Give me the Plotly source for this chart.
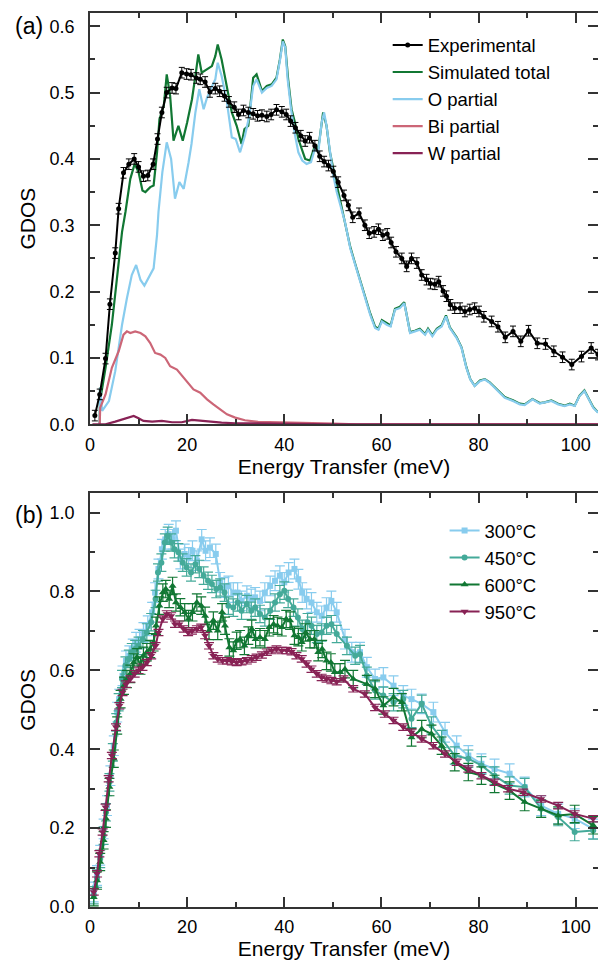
import plotly.graph_objects as go

# ---------------- Panel (a) data ----------------
exp_E = [1.0, 2.0, 3.2, 4.1, 5.2, 5.9, 6.9, 8.0, 9.1, 10.0, 11.0, 11.9, 13.0, 13.9, 14.8, 15.8, 16.9, 17.7,
         18.9, 19.9, 20.8, 21.9, 22.7, 23.7, 24.7, 25.8, 26.7, 27.7, 28.6, 29.7, 30.6, 31.6, 32.6, 33.6,
         34.5, 35.4, 36.4, 37.3, 38.4, 39.5, 40.4, 41.3, 42.3, 43.4, 44.3, 45.2, 46.3, 47.3, 48.2, 49.1,
         50.1, 51.1, 52.3, 53.2, 54.1, 55.4, 56.6, 57.5, 58.5, 59.4, 60.3, 61.2, 62.0, 63.0, 64.2, 65.2,
         66.2, 67.3, 68.3, 69.3, 70.1, 71.0, 71.8, 72.7, 73.4, 74.2, 75.1, 76.2, 77.2, 78.2, 79.2, 80.1,
         81.1, 82.7, 84.0, 85.5, 87.1, 88.7, 90.3, 92.1, 93.8, 95.5, 97.3, 99.2, 101.2, 103.2, 104.6]
exp_G = [0.013, 0.045, 0.099, 0.181, 0.258, 0.325, 0.379, 0.392, 0.400, 0.388, 0.374, 0.375, 0.392, 0.430,
         0.470, 0.500, 0.507, 0.506, 0.530, 0.528, 0.527, 0.522, 0.520, 0.516, 0.501, 0.506, 0.502, 0.495,
         0.486, 0.478, 0.467, 0.473, 0.470, 0.468, 0.465, 0.466, 0.464, 0.467, 0.474, 0.471, 0.467, 0.457,
         0.447, 0.435, 0.427, 0.432, 0.420, 0.404, 0.396, 0.390, 0.381, 0.365, 0.345, 0.330, 0.312, 0.318,
         0.300, 0.288, 0.290, 0.294, 0.285, 0.287, 0.274, 0.260, 0.250, 0.238, 0.250, 0.243, 0.225, 0.218,
         0.212, 0.211, 0.215, 0.201, 0.193, 0.180, 0.175, 0.175, 0.170, 0.173, 0.175, 0.170, 0.162, 0.155,
         0.147, 0.131, 0.140, 0.125, 0.141, 0.122, 0.121, 0.110, 0.101, 0.090, 0.102, 0.115, 0.105]

sim_E = [2.0, 2.05, 2.3, 3.2, 4.5, 5.6, 6.6, 7.3, 8.3, 9.2, 10.0, 10.8, 11.4, 12.4, 13.1, 13.8, 14.3, 15.2,
         15.8, 16.5, 17.2, 18.2, 19.1, 20.0, 21.0, 21.8, 22.3, 23.0, 24.1, 25.1, 25.8, 26.3, 27.1, 28.2,
         29.2, 30.2, 31.2, 31.8, 32.6, 33.6, 34.3, 35.4, 36.4, 37.4, 38.4, 39.1, 39.7, 40.2, 40.8, 41.5,
         42.2, 42.9, 44.3, 45.3, 46.3, 47.0, 48.0, 48.7, 49.4, 50.4, 51.7, 52.5, 53.6, 54.6, 55.6, 56.6,
         57.7, 58.7, 59.4, 60.1, 61.1, 61.9, 62.8, 63.8, 64.7, 65.2, 65.9, 66.9, 67.9, 69.0, 69.6, 70.5,
         71.4, 72.4, 73.3, 74.1, 75.5, 76.5, 77.5, 78.3, 79.2, 80.3, 81.3, 82.3, 83.7, 85.4, 87.1, 88.5,
         89.5, 91.1, 92.6, 93.6, 95.0, 96.4, 97.7, 98.8, 99.8, 100.8, 101.8, 102.9, 103.6, 104.6]
sim_G = [0.0, 0.055, 0.045, 0.085, 0.150, 0.225, 0.290, 0.320, 0.370, 0.3925, 0.380, 0.3525, 0.350, 0.3575,
         0.360, 0.410, 0.460, 0.480, 0.5275, 0.495, 0.4275, 0.450, 0.4275, 0.455, 0.490, 0.530, 0.5575,
         0.530, 0.535, 0.540, 0.555, 0.5725, 0.550, 0.510, 0.470, 0.450, 0.4225, 0.445, 0.450, 0.5225,
         0.5275, 0.5025, 0.510, 0.5125, 0.5225, 0.550, 0.580, 0.570, 0.520, 0.475, 0.455, 0.430, 0.400,
         0.3975, 0.420, 0.415, 0.470, 0.450, 0.410, 0.375, 0.330, 0.307, 0.267, 0.242, 0.217, 0.192,
         0.167, 0.147, 0.144, 0.157, 0.152, 0.149, 0.174, 0.177, 0.184, 0.167, 0.139, 0.141, 0.144, 0.136,
         0.144, 0.134, 0.144, 0.149, 0.164, 0.146, 0.131, 0.116, 0.086, 0.068, 0.058, 0.066, 0.068, 0.063,
         0.053, 0.041, 0.036, 0.031, 0.030, 0.038, 0.032, 0.033, 0.036, 0.031, 0.028, 0.031, 0.028, 0.043,
         0.051, 0.036, 0.026, 0.018]

o_E = [2.0, 2.05, 2.5, 3.9, 5.2, 6.6, 7.6, 8.6, 9.5, 10.4, 11.2, 12.1, 13.1, 13.8, 14.1, 14.9, 15.8, 16.7,
       17.5, 18.4, 19.3, 20.3, 20.9, 21.7, 22.5, 23.4, 24.1, 25.0, 25.8, 26.3, 27.1, 28.2, 29.2, 30.0,
       30.9, 31.9, 32.8, 33.6, 34.3, 35.4, 36.4, 37.4, 38.4, 39.1, 39.7, 40.2, 40.7, 41.4, 42.1, 42.9,
       43.7, 44.6, 45.5, 46.3, 47.0, 47.7, 48.2, 48.7, 49.4, 50.1, 50.8, 51.7, 52.5, 53.6, 54.6, 55.6,
       56.6, 57.7, 58.7, 59.4, 60.1, 61.1, 61.9, 62.8, 63.8, 64.7, 65.2, 65.9, 66.9, 67.9, 69.0, 69.6,
       70.5, 71.4, 72.4, 73.3, 74.1, 75.5, 76.5, 77.5, 78.3, 79.2, 80.3, 81.3, 82.3, 83.7, 85.4, 87.1,
       88.5, 89.5, 91.1, 92.6, 93.6, 95.0, 96.4, 97.7, 98.8, 99.8, 100.8, 101.8, 102.9, 103.6, 104.6]
o_G = [0.0, 0.055, 0.020, 0.035, 0.080, 0.150, 0.190, 0.225, 0.240, 0.2175, 0.209, 0.2225, 0.235, 0.285,
       0.320, 0.380, 0.425, 0.400, 0.340, 0.365, 0.355, 0.395, 0.4225, 0.470, 0.505, 0.475, 0.4925, 0.5075,
       0.520, 0.545, 0.525, 0.485, 0.4325, 0.430, 0.410, 0.435, 0.465, 0.510, 0.520, 0.500, 0.507, 0.510,
       0.520, 0.548, 0.577, 0.568, 0.520, 0.475, 0.440, 0.410, 0.3975, 0.3925, 0.395, 0.415, 0.410, 0.455,
       0.470, 0.450, 0.410, 0.375, 0.350, 0.325, 0.305, 0.265, 0.240, 0.215, 0.190, 0.165, 0.145, 0.1425,
       0.155, 0.150, 0.1475, 0.1725, 0.175, 0.1825, 0.165, 0.1375, 0.140, 0.1425, 0.135, 0.1425, 0.1325,
       0.1425, 0.1475, 0.1625, 0.145, 0.130, 0.115, 0.085, 0.0675, 0.0575, 0.065, 0.0675, 0.0625, 0.0525,
       0.040, 0.035, 0.030, 0.029, 0.0375, 0.031, 0.0325, 0.035, 0.030, 0.0275, 0.030, 0.0275, 0.0425,
       0.050, 0.035, 0.025, 0.0175]

bi_E = [2.0, 2.05, 2.1, 3.2, 4.5, 5.9, 6.9, 7.6, 8.3, 9.3, 10.4, 11.4, 12.4, 13.4, 14.5, 15.5, 16.5, 17.9,
        19.3, 20.3, 21.3, 22.7, 24.1, 25.4, 26.8, 28.2, 29.9, 31.9, 34.6, 38.8, 43.6, 50.0, 55.0, 104.6]
bi_G = [0.0, 0.015, 0.025, 0.045, 0.085, 0.110, 0.135, 0.140, 0.1375, 0.140, 0.1375, 0.1325, 0.1225, 0.1075,
        0.105, 0.100, 0.0875, 0.0825, 0.070, 0.060, 0.0525, 0.0475, 0.0375, 0.030, 0.0225, 0.015, 0.010,
        0.006, 0.0035, 0.0025, 0.002, 0.001, 0.0, 0.0]

w_E = [0.5, 3.2, 5.2, 7.3, 9.0, 10.0, 11.0, 12.8, 14.8, 16.9, 18.9, 21.0, 22.3, 24.5, 27.1, 29.9, 35.0,
       45.0, 50.0, 104.6]
w_G = [0.0, 0.0, 0.004, 0.009, 0.0125, 0.009, 0.005, 0.004, 0.005, 0.003, 0.003, 0.0065, 0.0055, 0.004,
       0.0025, 0.0015, 0.001, 0.001, 0.0, 0.0]

# ---------------- Panel (b) data ----------------
t300_E = [0.77, 1.45, 2.1, 2.8, 3.5, 4.2, 4.9, 5.6, 6.0, 6.7, 7.4, 8.1, 8.8, 9.5, 10.2, 11.0, 11.9, 12.8,
          13.4, 14.1, 14.8, 15.5, 16.2, 17.0, 17.7, 18.6, 19.5, 20.3, 21.1, 22.0, 23.0, 23.8, 24.7, 25.9,
          26.8, 27.7, 28.5, 29.5, 30.4, 31.2, 32.3, 33.2, 34.0, 35.0, 36.0, 37.1, 38.1, 39.1, 40.0, 40.9,
          42.1, 42.9, 43.7, 44.6, 45.6, 46.7, 47.7, 48.7, 49.7, 50.8, 52.5, 53.9, 55.6, 57.0, 58.7, 60.4,
          62.5, 64.5, 66.2, 68.3, 70.7, 73.1, 75.5, 77.9, 80.6, 83.3, 86.4, 89.5, 92.9, 96.4, 99.8, 103.6]
t300_G = [0.038, 0.080, 0.131, 0.198, 0.257, 0.333, 0.409, 0.494, 0.527, 0.586, 0.624, 0.637, 0.654, 0.671,
          0.679, 0.696, 0.713, 0.747, 0.797, 0.857, 0.907, 0.932, 0.945, 0.932, 0.954, 0.882, 0.895, 0.886,
          0.903, 0.878, 0.932, 0.903, 0.911, 0.895, 0.823, 0.810, 0.814, 0.797, 0.797, 0.776, 0.789, 0.781,
          0.785, 0.776, 0.797, 0.814, 0.827, 0.840, 0.823, 0.848, 0.857, 0.831, 0.797, 0.781, 0.772, 0.747,
          0.738, 0.759, 0.776, 0.747, 0.679, 0.646, 0.646, 0.608, 0.578, 0.582, 0.561, 0.536, 0.527, 0.515,
          0.494, 0.443, 0.409, 0.384, 0.363, 0.350, 0.338, 0.304, 0.257, 0.236, 0.224, 0.198]

t450_E = [0.77, 1.45, 2.1, 2.8, 3.3, 4.0, 4.7, 5.4, 5.9, 6.6, 7.3, 8.0, 8.6, 9.3, 10.0, 10.9, 11.7, 12.6,
          13.5, 14.0, 14.7, 15.4, 16.0, 16.7, 17.4, 18.2, 19.1, 19.9, 20.8, 21.7, 22.5, 23.4, 24.3, 25.1,
          26.0, 26.8, 27.7, 28.5, 29.5, 30.4, 31.2, 32.3, 33.2, 34.0, 35.0, 36.0, 37.1, 38.1, 39.1, 40.0,
          40.8, 41.9, 42.8, 43.7, 44.8, 45.6, 46.7, 47.7, 48.7, 49.7, 50.8, 52.9, 54.6, 55.6, 57.0, 58.7,
          60.4, 62.5, 64.5, 66.2, 68.3, 70.3, 72.4, 75.1, 77.9, 80.6, 83.3, 86.4, 89.5, 92.9, 96.4, 99.8,
          103.6]
t450_G = [0.030, 0.072, 0.122, 0.181, 0.240, 0.316, 0.392, 0.468, 0.519, 0.578, 0.612, 0.629, 0.646, 0.654,
          0.662, 0.679, 0.696, 0.722, 0.781, 0.848, 0.873, 0.924, 0.941, 0.924, 0.907, 0.899, 0.873, 0.861,
          0.848, 0.869, 0.857, 0.840, 0.827, 0.819, 0.806, 0.810, 0.797, 0.764, 0.759, 0.772, 0.751, 0.768,
          0.751, 0.759, 0.743, 0.734, 0.751, 0.772, 0.793, 0.802, 0.781, 0.759, 0.734, 0.705, 0.722, 0.713,
          0.692, 0.696, 0.713, 0.717, 0.692, 0.662, 0.637, 0.641, 0.586, 0.549, 0.536, 0.519, 0.527, 0.477,
          0.515, 0.460, 0.426, 0.384, 0.376, 0.359, 0.333, 0.308, 0.304, 0.249, 0.228, 0.190, 0.194]

t600_E = [0.77, 1.45, 2.1, 2.8, 3.3, 4.0, 4.9, 5.6, 6.3, 7.0, 7.6, 8.3, 9.0, 9.7, 10.4, 11.0, 11.7, 12.4,
          13.1, 13.6, 14.3, 15.0, 15.6, 16.3, 17.0, 17.7, 18.6, 19.5, 20.3, 21.1, 22.0, 22.9, 23.7, 24.5,
          25.4, 26.3, 27.2, 27.8, 28.7, 29.5, 30.2, 30.9, 31.8, 32.6, 33.3, 34.1, 35.0, 36.0, 36.9, 37.8,
          38.6, 39.5, 40.4, 41.2, 42.1, 42.9, 43.6, 44.4, 45.3, 46.2, 47.0, 47.8, 48.7, 49.6, 50.4, 51.5,
          52.5, 54.2, 57.0, 58.7, 60.4, 62.5, 64.2, 66.2, 68.3, 70.3, 72.4, 75.1, 77.9, 80.6, 83.3, 86.4,
          89.5, 92.9, 96.4, 99.8, 103.6]
t600_G = [0.025, 0.067, 0.114, 0.169, 0.224, 0.304, 0.376, 0.460, 0.527, 0.561, 0.578, 0.591, 0.620, 0.633,
          0.612, 0.637, 0.646, 0.654, 0.671, 0.713, 0.764, 0.797, 0.806, 0.781, 0.814, 0.772, 0.760, 0.747,
          0.730, 0.747, 0.772, 0.764, 0.738, 0.700, 0.726, 0.700, 0.747, 0.713, 0.658, 0.650, 0.675, 0.679,
          0.662, 0.688, 0.705, 0.679, 0.684, 0.679, 0.709, 0.717, 0.713, 0.709, 0.730, 0.726, 0.688, 0.684,
          0.671, 0.696, 0.679, 0.679, 0.646, 0.654, 0.624, 0.620, 0.595, 0.595, 0.603, 0.578, 0.565, 0.553,
          0.511, 0.532, 0.519, 0.430, 0.451, 0.439, 0.409, 0.367, 0.342, 0.333, 0.312, 0.295, 0.266, 0.249,
          0.232, 0.236, 0.207]

t950_E = [0.77, 1.45, 1.93, 2.6, 3.2, 3.85, 4.5, 5.35, 6.04, 6.7, 7.4, 8.3, 9.2, 10.0, 10.8, 11.7, 12.6,
          13.5, 14.1, 15.0, 15.8, 16.7, 17.5, 18.4, 19.3, 20.2, 21.0, 22.0, 22.9, 23.7, 24.5, 25.4, 26.3,
          27.3, 28.2, 29.2, 30.2, 31.2, 32.3, 33.3, 34.3, 35.4, 36.4, 37.4, 38.4, 39.5, 40.5, 41.5, 42.5,
          43.6, 44.6, 45.6, 46.7, 47.7, 48.7, 49.7, 50.8, 52.2, 54.2, 56.6, 58.7, 60.7, 62.5, 64.5, 66.2,
          68.3, 70.7, 73.1, 75.5, 77.9, 80.6, 83.3, 86.1, 89.2, 92.9, 96.4, 99.8, 103.6]
t950_G = [0.038, 0.084, 0.135, 0.190, 0.253, 0.325, 0.384, 0.456, 0.510, 0.544, 0.565, 0.578, 0.591, 0.600,
          0.608, 0.620, 0.637, 0.662, 0.696, 0.730, 0.743, 0.738, 0.717, 0.717, 0.705, 0.696, 0.700, 0.705,
          0.709, 0.688, 0.662, 0.637, 0.629, 0.624, 0.624, 0.622, 0.620, 0.622, 0.624, 0.629, 0.633, 0.639,
          0.646, 0.650, 0.654, 0.650, 0.650, 0.647, 0.637, 0.629, 0.616, 0.603, 0.591, 0.582, 0.578, 0.574,
          0.571, 0.578, 0.553, 0.540, 0.506, 0.489, 0.473, 0.456, 0.443, 0.426, 0.409, 0.388, 0.367, 0.350,
          0.333, 0.316, 0.300, 0.291, 0.274, 0.257, 0.236, 0.224]

# ---------------- Figure ----------------
FONT = "Liberation Sans, Arial, sans-serif"
AX = "#333333"
C_EXP = "black"
C_SIM = "#117733"
C_O = "#88CCEE"
C_BI = "#CC6677"
C_W = "#882255"
C_300 = "#88CCEE"
C_450 = "#44AA99"
C_600 = "#117733"
C_950 = "#882255"

fig = go.Figure()

fig.add_trace(go.Scatter(x=sim_E, y=sim_G, mode="lines", name="Simulated total",
                         line=dict(color=C_SIM, width=2.2), legendrank=2, xaxis="x", yaxis="y"))
fig.add_trace(go.Scatter(x=o_E, y=o_G, mode="lines", name="O partial",
                         line=dict(color=C_O, width=2.2), legendrank=3, xaxis="x", yaxis="y"))
fig.add_trace(go.Scatter(x=bi_E, y=bi_G, mode="lines", name="Bi partial",
                         line=dict(color=C_BI, width=2.2), legendrank=4, xaxis="x", yaxis="y"))
fig.add_trace(go.Scatter(x=w_E, y=w_G, mode="lines", name="W partial",
                         line=dict(color=C_W, width=2.2), legendrank=5, xaxis="x", yaxis="y"))
fig.add_trace(go.Scatter(x=exp_E, y=exp_G, mode="lines+markers", name="Experimental",
                         line=dict(color=C_EXP, width=2), marker=dict(color=C_EXP, size=5),
                         error_y=dict(type="constant", value=0.008, color=C_EXP, thickness=1, width=3),
                         legendrank=1, xaxis="x", yaxis="y"))

bottom = [(t300_E, t300_G, "300°C", C_300, "square", 6, 0.025),
          (t450_E, t450_G, "450°C", C_450, "circle", 6, 0.022),
          (t600_E, t600_G, "600°C", C_600, "triangle-up", 7, 0.022),
          (t950_E, t950_G, "950°C", C_950, "triangle-down", 7, 0.008)]
for i, (ex, gy, nm, col, sym, ms, err) in enumerate(bottom):
    fig.add_trace(go.Scatter(x=ex, y=gy, mode="lines+markers", name=nm,
                             line=dict(color=col, width=2), marker=dict(color=col, size=ms, symbol=sym),
                             error_y=dict(type="constant", value=err, color=col, thickness=1.2, width=5),
                             legend="legend2", legendrank=i + 1, xaxis="x2", yaxis="y2"))

TICKSZ = 18
TITLESZ = 21
LEGSZ = 18.5

axis_common = dict(showline=True, linecolor=AX, linewidth=1.5, mirror="ticks", ticks="inside",
                   ticklen=10, tickwidth=1.5, tickcolor=AX, showgrid=False, zeroline=False,
                   automargin=False,
                   tickfont=dict(size=TICKSZ, color="black", family=FONT),
                   minor=dict(ticks="inside", ticklen=5, tickwidth=1.5, tickcolor=AX, showgrid=False))

xcommon = dict(axis_common, range=[0, 104.6], tick0=0, dtick=20, ticklabelstandoff=3,
               title=dict(text="Energy Transfer (meV)", font=dict(size=TITLESZ, color="black", family=FONT),
                          standoff=4))
xcommon["minor"] = dict(axis_common["minor"], dtick=10)

yt = dict(axis_common, range=[0, 0.62], tick0=0, dtick=0.1, tickformat=".1f", ticklabelstandoff=10,
          title=dict(text="GDOS", font=dict(size=TITLESZ, color="black", family=FONT), standoff=8))
yt["minor"] = dict(axis_common["minor"], dtick=0.05)
yb = dict(axis_common, range=[0, 1.05], tick0=0, dtick=0.2, tickformat=".1f", ticklabelstandoff=10,
          title=dict(text="GDOS", font=dict(size=TITLESZ, color="black", family=FONT), standoff=8))
yb["minor"] = dict(axis_common["minor"], dtick=0.1)

fig.update_layout(
    width=598, height=963,
    margin=dict(l=90, r=0, t=13, b=56, autoexpand=False),
    paper_bgcolor="white", plot_bgcolor="white",
    font=dict(family=FONT, color="black"),
    xaxis=dict(xcommon, domain=[0, 1], anchor="y"),
    yaxis=dict(yt, domain=[0.540, 1.0], anchor="x"),
    xaxis2=dict(xcommon, domain=[0, 1], anchor="y2"),
    yaxis2=dict(yb, domain=[0.0, 0.4633], anchor="x2"),
    legend=dict(x=0.586, y=0.985, xanchor="left", yanchor="top", bgcolor="rgba(0,0,0,0)",
                font=dict(size=LEGSZ, family=FONT, color="black"), tracegroupgap=0),
    legend2=dict(x=0.698, y=0.442, xanchor="left", yanchor="top", bgcolor="rgba(0,0,0,0)",
                 font=dict(size=LEGSZ, family=FONT, color="black"), tracegroupgap=0),
    annotations=[
        dict(text="(a)", x=-0.12, y=0.986, xref="paper", yref="paper", xanchor="center",
             yanchor="middle", showarrow=False, font=dict(size=23, family=FONT, color="black")),
        dict(text="(b)", x=-0.12, y=0.439, xref="paper", yref="paper", xanchor="center",
             yanchor="middle", showarrow=False, font=dict(size=23, family=FONT, color="black")),
    ],
)

fig.write_html("out.html", config={"displayModeBar": False},
               post_script="document.body.style.margin='0px';document.body.style.overflow='hidden';")
